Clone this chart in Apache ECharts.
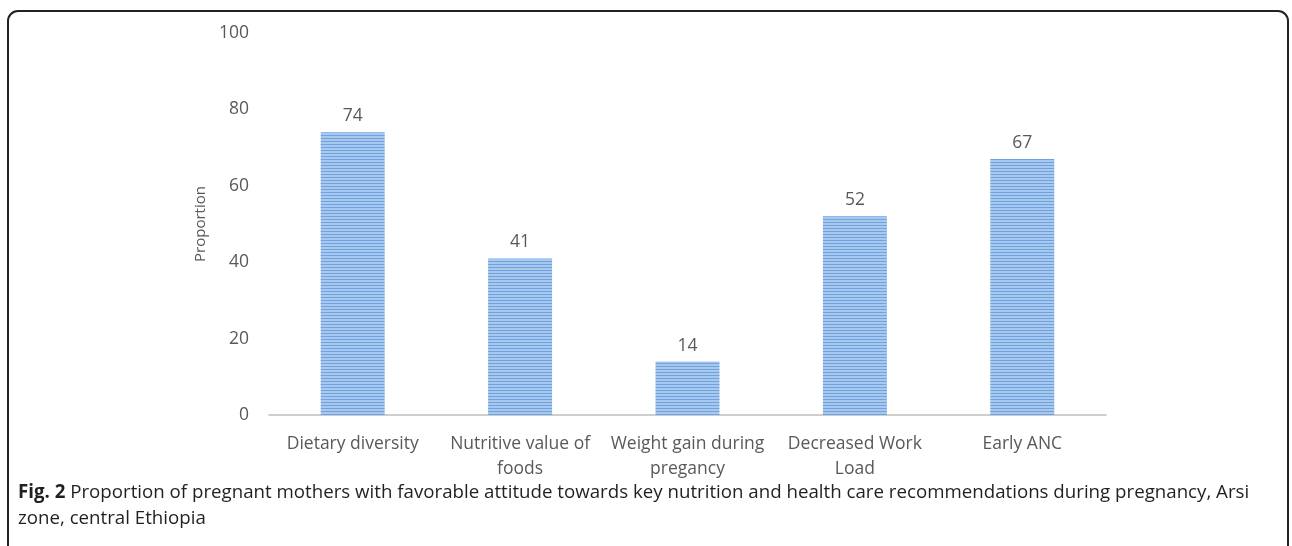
<!DOCTYPE html>
<html>
<head>
<meta charset="utf-8">
<script src="https://cdn.jsdelivr.net/npm/echarts@6/dist/echarts.min.js"></script>
<style>
  html, body { margin: 0; padding: 0; background: #fff; }
  #chart { width: 1292px; height: 546px; }
</style>
</head>
<body>
<div id="chart"></div>
<script>
// data
const categories = ['Dietary diversity', 'Nutritive value of\nfoods', 'Weight gain during\npregancy', 'Decreased Work\nLoad', 'Early ANC']
const proportions = [74, 41, 14, 52, 67]
const yTicks = [0, 20, 40, 60, 80, 100]

// striped fill like the original bars
function stripePattern() {
  const c = document.createElement('canvas')
  c.width = 4
  c.height = 3
  const ctx = c.getContext('2d')
  ctx.fillStyle = '#a9c8ee'
  ctx.fillRect(0, 0, 4, 3)
  ctx.fillStyle = '#6ea3e0'
  ctx.fillRect(0, 0, 4, 1)
  return c
}

const chart = echarts.init(document.getElementById('chart'))
const font = '"Open Sans", "Noto Sans", sans-serif'

const option = {
  animation: false,
  textStyle: { fontFamily: font },
  title: {
    left: 13,
    top: 475,
    text: '{b|Fig. 2} Proportion of pregnant mothers with favorable attitude towards key nutrition and health care recommendations during pregnancy, Arsi\nzone, central Ethiopia',
    textStyle: {
      fontFamily: font,
      fontSize: 18.7,
      fontWeight: 'normal',
      color: '#231f20',
      lineHeight: 26,
      rich: {
        b: { fontFamily: font, fontSize: 18.7, fontWeight: 'bold', color: '#231f20', lineHeight: 26 }
      }
    }
  },
  graphic: [
    {
      type: 'rect',
      shape: { x: 8, y: 11, width: 1280, height: 560, r: 10 },
      style: { fill: 'none', stroke: '#222', lineWidth: 2 },
      silent: true
    }
  ],
  grid: { left: 269, right: 186, top: 33, bottom: 131, containLabel: false },
  xAxis: {
    type: 'category',
    data: categories,
    axisTick: { show: false },
    axisLine: { lineStyle: { color: '#bfbfbf', width: 1.5 } },
    axisLabel: {
      color: '#595959',
      fontSize: 17.5,
      lineHeight: 25,
      margin: 17,
      interval: 0
    }
  },
  yAxis: {
    type: 'value',
    min: yTicks[0],
    max: yTicks[yTicks.length - 1],
    interval: 20,
    name: 'Proportion',
    nameLocation: 'middle',
    nameGap: 55,
    nameTextStyle: { color: '#595959', fontSize: 15 },
    axisLine: { show: false },
    axisTick: { show: false },
    splitLine: { show: false },
    axisLabel: { color: '#595959', fontSize: 17.5, margin: 20 }
  },
  series: [
    {
      type: 'bar',
      data: proportions,
      barWidth: 64,
      itemStyle: { color: { image: stripePattern(), repeat: 'repeat' } },
      label: {
        show: true,
        position: 'top',
        distance: 7,
        color: '#595959',
        fontSize: 17.5
      }
    }
  ]
}
chart.setOption(option)
</script>
</body>
</html>
